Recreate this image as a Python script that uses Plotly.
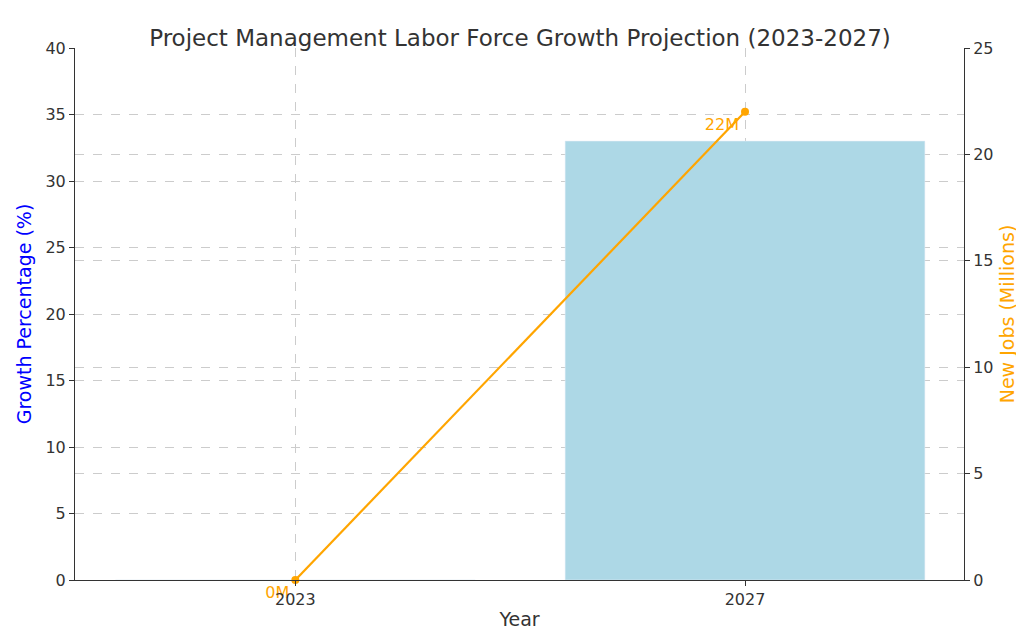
import plotly.graph_objects as go

years = [2023, 2027]
growth_pct = [0, 33]
new_jobs = [0, 22]
job_labels = ["0M", "22M"]

fig = go.Figure()
fig.add_trace(go.Bar(x=[0, 1], y=growth_pct, marker_color="lightblue", width=0.8,
                     name="Growth Percentage", yaxis="y"))
fig.add_trace(go.Scatter(x=[0, 1], y=new_jobs, mode="lines+markers+text", yaxis="y2",
                         line=dict(color="orange", width=2.2), marker=dict(color="orange", size=8),
                         text=job_labels, textposition="bottom left", cliponaxis=False,
                         textfont=dict(color="orange", size=16), name="New Jobs"))

grid = dict(showgrid=True, gridcolor="#cccccc", griddash="dash", gridwidth=1, automargin=False)
fig.update_layout(
    width=1024, height=633, plot_bgcolor="white", paper_bgcolor="white",
    font=dict(family="DejaVu Sans", size=16, color="#333"),
    title=dict(text="Project Management Labor Force Growth Projection (2023-2027)",
               x=0.5, xanchor="center", y=0.965, font=dict(size=23, color="#333")),
    margin=dict(l=67, r=68, t=40, b=61),
    showlegend=False,
    xaxis=dict(range=[-0.49, 1.487], tickvals=[0, 1], ticktext=[str(y) for y in years],
               title=dict(text="Year", standoff=4), showline=True, linecolor="#333",
               ticks="outside", tickcolor="#333", **grid),
    yaxis=dict(range=[0, 40], dtick=5, title=dict(text="Growth Percentage (%)", font=dict(color="blue"), standoff=8),
               showline=True, linecolor="#333", ticks="outside", tickcolor="#333", zeroline=False, **grid),
    yaxis2=dict(range=[0, 25], dtick=5, overlaying="y", side="right",
                title=dict(text="New Jobs (Millions)", font=dict(color="orange"), standoff=8),
                showline=True, linecolor="#333", ticks="outside", tickcolor="#333", zeroline=False, **grid),
)
fig.write_html("out.html")
